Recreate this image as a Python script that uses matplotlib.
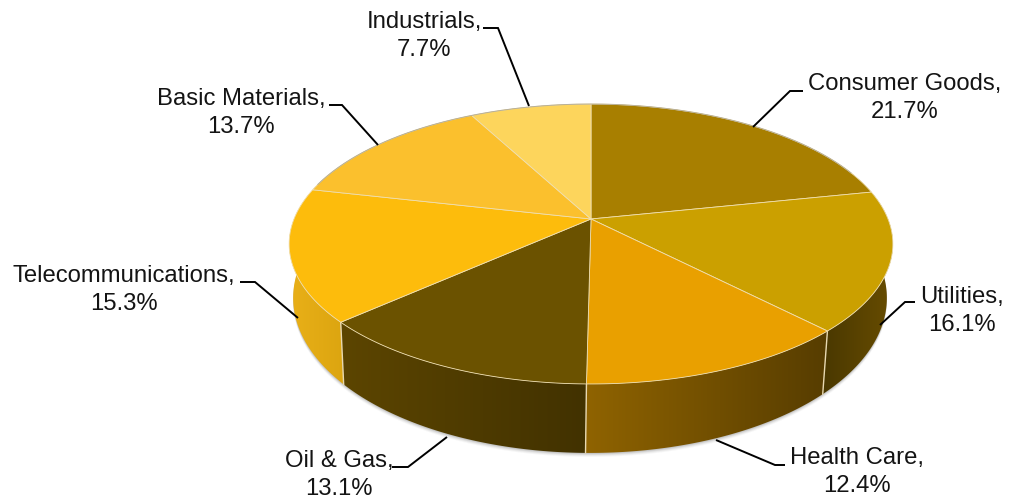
import numpy as np
import matplotlib
matplotlib.use("Agg")
import matplotlib.pyplot as plt
from matplotlib.patches import Polygon

plt.rcParams['font.family'] = ['Liberation Sans', 'DejaVu Sans']

# Datos (sentido horario desde las 12)
sectores = ["Consumer Goods", "Utilities", "Health Care", "Oil & Gas",
            "Telecommunications", "Basic Materials", "Industrials"]
valores = [21.7, 16.1, 12.4, 13.1, 15.3, 13.7, 7.7]

colores_tapa = ["#A87F00", "#CBA000", "#E9A000", "#6B5200",
                "#FDBC0C", "#FBC02D", "#FDD55C"]
# color del lateral: izquierda, derecha
colores_lado = [("#6b5000", "#6b5000"), ("#4a3800", "#684d00"),
                ("#8f6300", "#573d00"), ("#5c4500", "#423200"),
                ("#e9b018", "#dca510"), ("#6b5000", "#6b5000"),
                ("#6b5000", "#6b5000")]

# Posicion de las etiquetas y lineas guia (pixeles)
pos_etiquetas = [(905, 98), (962, 311), (857, 472), (339, 475),
                 (124, 290), (241, 113), (424, 36)]
guias = [[(803, 91), (790, 91), (753, 127)],
         [(915, 302), (905, 302), (880, 325)],
         [(785, 465), (775, 465), (716, 440)],
         [(392, 467), (408, 467), (447, 437)],
         [(240, 282), (255, 282), (298, 318)],
         [(329, 105), (342, 105), (378, 145)],
         [(483, 28), (498, 28), (529, 106)]]


# Proyeccion en perspectiva del disco
def borde(theta, cx, cy, a, b, k):
    u, v = np.sin(theta), np.cos(theta)
    d = 1 + k * v
    return cx + a * u / d, cy - b * v / d


def arriba(theta):
    return borde(theta, 591, 219, 297, 135.5, 0.1786)


def abajo(theta):
    return borde(theta, 590, 270, 292, 150, 0.18)


fig = plt.figure(figsize=(10.11, 4.99), dpi=100)
ax = fig.add_axes([0, 0, 1, 1])
ax.set_xlim(0, 1011)
ax.set_ylim(499, 0)
ax.axis("off")

acum = np.cumsum([0] + valores) / sum(valores) * 2 * np.pi

# Sombra suave bajo el disco
t = np.linspace(0, 2 * np.pi, 400)
xs, ys = abajo(t)
for i, al in zip([4, 3, 2, 1], [0.05, 0.08, 0.12, 0.16]):
    ax.add_patch(Polygon(np.c_[xs, ys + i], fc="#606060", ec="none", alpha=al, zorder=1))

# Laterales
orden = [0, 5, 6, 1, 4, 3, 2]
for n, i in enumerate(orden):
    t = np.linspace(acum[i], acum[i + 1], 80)
    xa, ya = arriba(t)
    xb, yb = abajo(t)
    px = np.r_[xa, xb[::-1]]
    py = np.r_[ya, yb[::-1]]
    pol = Polygon(np.c_[px, py], fc="none", ec="none", zorder=2)
    ax.add_patch(pol)
    c1 = np.array(matplotlib.colors.to_rgb(colores_lado[i][0]))
    c2 = np.array(matplotlib.colors.to_rgb(colores_lado[i][1]))
    g = np.linspace(0, 1, 64)[:, None]
    img = (c1 * (1 - g) + c2 * g)[None, :, :]
    im = ax.imshow(img, extent=[px.min(), px.max(), py.max(), py.min()],
                   aspect="auto", interpolation="bilinear", zorder=2)
    im.set_clip_path(pol)
    # arista vertical clara entre sectores
    xe = [xa[0], xb[0]]
    ye = [ya[0], yb[0]]
    if np.pi / 2 < acum[i] < 3 * np.pi / 2:
        ax.plot(xe, ye, color="#e8d8b0", lw=1.0, zorder=3)

ax.set_xlim(0, 1011)
ax.set_ylim(499, 0)

# Tapa
for i in range(len(valores)):
    t = np.linspace(acum[i], acum[i + 1], 80)
    xa, ya = arriba(t)
    ax.add_patch(Polygon(np.c_[np.r_[591, xa], np.r_[219, ya]], closed=True,
                         fc=colores_tapa[i], ec="#f0dfb0", lw=0.6, zorder=4))

# Borde superior gris tenue
t = np.linspace(-1.3, 1.2, 200)
xa, ya = arriba(t)
ax.plot(xa, ya, color="#b8b098", lw=0.7, zorder=5)

# Etiquetas
for nombre, val, (x, y), g in zip(sectores, valores, pos_etiquetas, guias):
    ax.text(x, y, f"{nombre},\n{val:.1f}%", ha="center", va="center",
            fontsize=17.2, color="#141414", linespacing=1.3, zorder=6)
    g = np.array(g)
    ax.plot(g[:, 0], g[:, 1], color="black", lw=1.4, zorder=6,
            solid_capstyle="butt", solid_joinstyle="miter")

fig.savefig("out.png", dpi=100)
